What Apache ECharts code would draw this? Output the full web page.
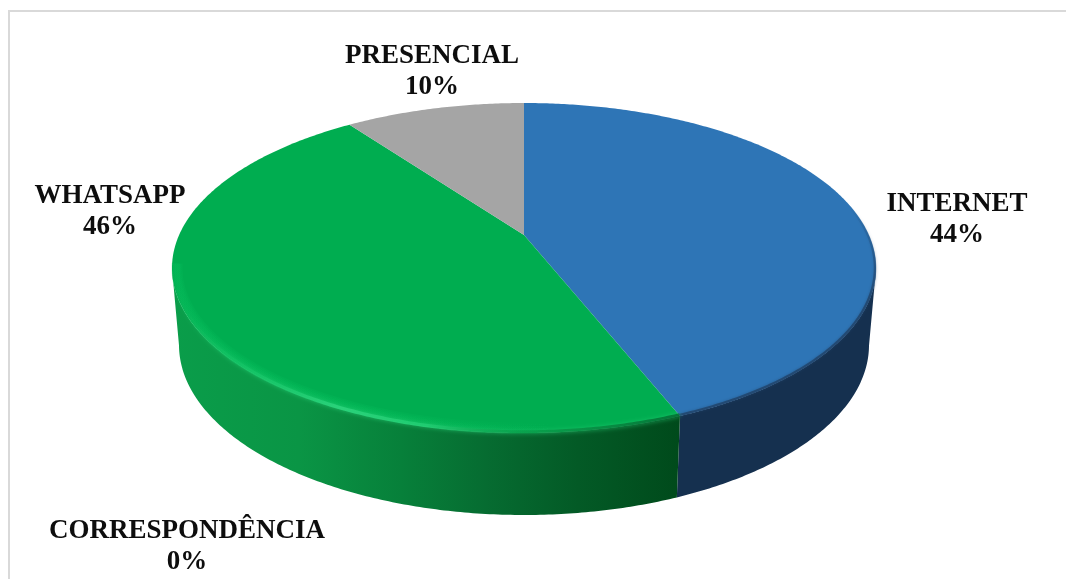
<!DOCTYPE html>
<html>
<head>
<meta charset="utf-8">
<style>html,body{margin:0;padding:0;background:#fff}#chart{width:1066px;height:579px}</style>
<script src="https://cdn.jsdelivr.net/npm/echarts@6/dist/echarts.min.js"></script>
</head>
<body>
<div id="chart"></div>
<script>
// Contact channels, in clockwise order from twelve o'clock
const categories = ['INTERNET', 'CORRESPONDÊNCIA', 'WHATSAPP', 'PRESENCIAL'];
const shares = [44, 0, 46, 10];

// Top face and base of the disc, plus the tilt that shifts the apex towards the back
const topFace = { cx: 524, cy: 268, rx: 352, ry: 165 };
const baseFace = { cx: 524, cy: 345, rx: 345, ry: 170 };
const rimFace = { cx: 524, cy: 268, rx: 351, ry: 164 };
const softFace = { cx: 524, cy: 268, rx: 347, ry: 160 };
const tilt = -0.2;

const faceColors = ['#2e75b6', '#7f6000', '#00ad50', '#a5a5a5'];
const labelCentres = [[957, 220], [187, 547], [110, 212], [432, 72]];

const greenWall = {
  type: 'linear', global: true, x: 172, y: 0, x2: 680, y2: 0,
  colorStops: [
    { offset: 0, color: '#0a9d4a' }, { offset: 0.25, color: '#0a9545' },
    { offset: 0.45, color: '#07803a' }, { offset: 0.62, color: '#066c31' },
    { offset: 0.8, color: '#035a26' }, { offset: 1, color: '#004a1b' }
  ]
};
const wallColors = ['#15304f', '#7f6000', greenWall, '#7a7a7a'];

const total = shares.reduce((a, b) => a + b, 0);

// Projects a clockwise angle on the flat disc onto a tilted ellipse
function project(theta, face) {
  const x = Math.sin(theta), y = -Math.cos(theta);
  const d = 1 + tilt * y;
  return [
    face.cx + face.rx * x * Math.sqrt(1 - tilt * tilt) / d,
    face.cy + face.ry * (y + tilt) / d
  ];
}
function arc(a0, a1, face) {
  const n = Math.max(2, Math.ceil((a1 - a0) / 0.01));
  const pts = [];
  for (let i = 0; i <= n; i++) pts.push(project(a0 + (a1 - a0) * i / n, face));
  return pts;
}
function sliceAngles(index) {
  let before = 0;
  for (let i = 0; i < index; i++) before += shares[i];
  return [before / total * 2 * Math.PI, (before + shares[index]) / total * 2 * Math.PI];
}
function below(pts, y) { return pts.filter(p => p[1] >= y); }

// Visible wall: the front of the top rim, joined to the front of the base rim
function renderWall(params, api) {
  const i = params.dataIndex;
  if (api.value(1) === 0) return { type: 'group', children: [] };
  const [a0, a1] = sliceAngles(i);
  const upper = below(arc(a0, a1, topFace), topFace.cy);
  const lower = below(arc(a0, a1, baseFace), baseFace.cy);
  if (upper.length < 2 || lower.length < 2) return { type: 'group', children: [] };
  return {
    type: 'polygon',
    shape: { points: upper.concat(lower.reverse()) },
    style: { fill: wallColors[i] }
  };
}

function renderTop(params, api) {
  const i = params.dataIndex;
  if (api.value(1) === 0) return { type: 'group', children: [] };
  const [a0, a1] = sliceAngles(i);
  const apex = [topFace.cx, topFace.cy + topFace.ry * tilt];
  return {
    type: 'polygon',
    shape: { points: [apex].concat(arc(a0, a1, topFace)) },
    style: { fill: faceColors[i] }
  };
}

// Soft bevel along the front edge of the coloured faces
function renderBevel(params, api) {
  const [a0, a1] = sliceAngles(params.dataIndex);
  const children = [];
  const name = api.value(2);
  const bright = (alpha) => ({
    type: 'linear', global: true, x: 172, y: 0, x2: 680, y2: 0, colorStops: [
      { offset: 0, color: `rgba(6,190,92,${alpha * 0.9})` },
      { offset: 0.4, color: `rgba(6,190,92,${alpha})` },
      { offset: 0.75, color: 'rgba(6,190,92,0)' },
      { offset: 1, color: 'rgba(6,190,92,0)' }]
  });
  if (name === 'WHATSAPP') {
    const soft = below(arc(a0, a1, softFace), topFace.cy - 5);
    [11, 8, 5].forEach((w) => children.push({
      type: 'polyline', shape: { points: soft },
      style: { fill: 'none', lineWidth: w, stroke: bright(0.22) }
    }));
    children.push({
      type: 'polyline', shape: { points: below(arc(a0, a1, rimFace), topFace.cy + 18) },
      style: { fill: 'none', lineWidth: 3.5, shadowBlur: 4, shadowColor: 'rgba(40,210,120,0.8)',
        stroke: { type: 'linear', global: true, x: 172, y: 0, x2: 680, y2: 0, colorStops: [
          { offset: 0, color: 'rgba(20,190,95,0)' }, { offset: 0.12, color: 'rgba(18,195,100,0.7)' },
          { offset: 0.33, color: '#2ad27a' }, { offset: 0.5, color: 'rgba(34,206,115,0.85)' },
          { offset: 0.68, color: 'rgba(10,150,70,0.6)' }, { offset: 1, color: 'rgba(0,90,40,0.7)' }] } }
    });
  } else if (name === 'INTERNET') {
    children.push({
      type: 'polyline', shape: { points: below(arc(a0, a1, rimFace), topFace.cy - 60) },
      style: { fill: 'none', lineWidth: 2.5, shadowBlur: 3, shadowColor: 'rgba(31,69,110,0.6)',
        stroke: { type: 'linear', global: true, x: 0, y: 205, x2: 0, y2: 300, colorStops: [
          { offset: 0, color: 'rgba(32,66,104,0)' }, { offset: 1, color: 'rgba(32,66,104,0.8)' }] } }
    });
  }
  return { type: 'group', children };
}

function renderLabel(params, api) {
  const i = params.dataIndex;
  return {
    type: 'text',
    style: {
      text: api.value(2) + '\n' + api.value(1) + '%',
      x: labelCentres[i][0], y: labelCentres[i][1],
      align: 'center', verticalAlign: 'middle',
      font: 'bold 27px "Liberation Serif", serif', lineHeight: 31,
      fill: '#0d0d0d'
    }
  };
}

const rows = categories.map((c, i) => [i, shares[i], c]);
const chart = echarts.init(document.getElementById('chart'), null, { renderer: 'canvas' });
const layer = (renderItem, z) => ({
  type: 'custom', coordinateSystem: 'none', renderItem, z, silent: true,
  data: rows, animation: false, clip: false
});
chart.setOption({
  animation: false,
  backgroundColor: '#ffffff',
  graphic: [{
    type: 'polyline', z: 0, silent: true,
    shape: { points: [[9, 579], [9, 11], [1066, 11]] },
    style: { fill: 'none', stroke: '#d9d9d9', lineWidth: 2 }
  }],
  series: [layer(renderWall, 2), layer(renderTop, 3), layer(renderBevel, 4), layer(renderLabel, 5)]
});
</script>
</body>
</html>
